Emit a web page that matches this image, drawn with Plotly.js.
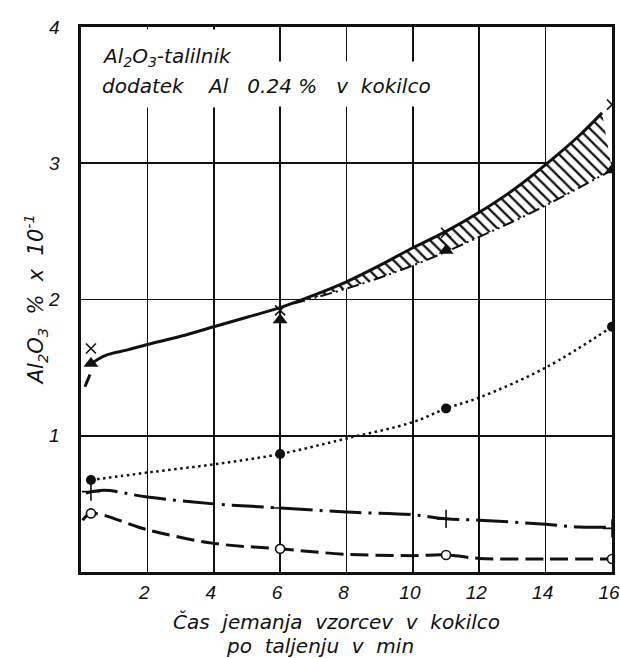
<!DOCTYPE html>
<html>
<head>
<meta charset="utf-8">
<script src="https://cdn.plot.ly/plotly-3.0.1.min.js"></script>
<style>
  html, body { margin: 0; padding: 0; background: #fff; }
  #chart { width: 620px; height: 658px; }
</style>
</head>
<body>
<div id="chart"></div>
<script>
// Sampling times (min after melting) at which each specimen was taken
const sampleTimes = [0.3, 6, 11, 16];

// Measured Al2O3 contents (% x 10^-1) for each sample series
const crossVals    = [1.64, 1.92, 2.49, 3.43];
const triangleVals = [1.53, 1.85, 2.36, 2.95];
const dotVals      = [0.675, 0.866, 1.20, 1.80];
const plusVals     = [0.59, 0.47, 0.39, 0.32];
const ringVals     = [0.43, 0.17, 0.125, 0.095];

// Drawn trend curves
const stubX = [0.12, 0.27];
const stubY = [1.36, 1.45];

const solidX = [0.33, 0.5, 0.8, 1.4, 2, 3, 4, 5, 6, 7, 8, 9, 10, 11, 12, 13, 14, 15, 15.7];
const solidY = [1.53, 1.56, 1.595, 1.63, 1.67, 1.73, 1.80, 1.87, 1.94, 2.03, 2.13, 2.25, 2.38, 2.50, 2.64, 2.80, 2.99, 3.20, 3.37];

const lowerX = [6.4, 7, 8, 9, 10, 11, 12, 13, 14, 15, 16];
const lowerY = [1.97, 2.01, 2.08, 2.16, 2.25, 2.35, 2.46, 2.57, 2.69, 2.82, 2.95];

const hatchUpperX = [6.4, 7, 8, 9, 10, 11, 12, 13, 14, 15, 15.7];
const hatchUpperY = [1.97, 2.03, 2.13, 2.25, 2.38, 2.50, 2.64, 2.80, 2.99, 3.20, 3.37];

const dottedX = [0.3, 2, 4, 6, 8, 10, 11, 12, 14, 16];
const dottedY = [0.675, 0.73, 0.79, 0.866, 0.98, 1.10, 1.20, 1.28, 1.50, 1.80];

const dashDotX = [0.15, 0.7, 2, 4, 6, 8, 10, 11, 12, 14, 15, 16];
const dashDotY = [0.58, 0.60, 0.55, 0.50, 0.47, 0.44, 0.42, 0.39, 0.38, 0.35, 0.33, 0.33];

const dashedX = [0.05, 0.3, 2, 4, 6, 8, 10, 11, 12, 14, 16];
const dashedY = [0.38, 0.43, 0.31, 0.21, 0.17, 0.13, 0.12, 0.125, 0.10, 0.095, 0.095];

// Axis ticks
const xTicks = [2, 4, 6, 8, 10, 12, 14, 16];
const yTicks = [1, 2, 3, 4];

const INK = '#111';
const FONT = 'DejaVu Sans, sans-serif';
const NUM_FONT = 'Liberation Sans, Arial, sans-serif';
const TXT = (size) => ({ family: FONT, size: size, color: INK, style: 'italic' });

const traces = [
  { // lower edge of hatched band
    x: lowerX, y: lowerY, mode: 'lines',
    line: { color: INK, width: 2, dash: '12px,4px,2px,4px,2px,4px', shape: 'spline' }
  },
  { // hatched band
    x: hatchUpperX, y: hatchUpperY, mode: 'lines',
    line: { color: 'rgba(0,0,0,0)', width: 0, shape: 'spline' },
    fill: 'tonexty', fillcolor: '#fff',
    fillpattern: { shape: '\\', fgcolor: INK, bgcolor: '#fff', size: 8, solidity: 0.28 }
  },
  { // solid curve
    x: solidX, y: solidY, mode: 'lines',
    line: { color: INK, width: 3, shape: 'spline' }
  },
  { // short lead-in stroke under the first triangle
    x: stubX, y: stubY, mode: 'lines',
    line: { color: INK, width: 3 }
  },
  { // dotted curve
    x: dottedX, y: dottedY, mode: 'lines',
    line: { color: INK, width: 2.5, dash: '2.5px,3.5px', shape: 'spline' }
  },
  { // dash-dot curve
    x: dashDotX, y: dashDotY, mode: 'lines',
    line: { color: INK, width: 3, dash: '32px,7px,3px,7px', shape: 'spline' }
  },
  { // dashed curve
    x: dashedX, y: dashedY, mode: 'lines',
    line: { color: INK, width: 3, dash: '18px,7px', shape: 'spline' }
  },
  { x: sampleTimes, y: crossVals, mode: 'markers',
    marker: { symbol: 'x-thin', size: 10, line: { color: INK, width: 1.6 } } },
  { x: sampleTimes, y: triangleVals, mode: 'markers',
    marker: { symbol: 'triangle-up', size: 13, color: INK } },
  { x: sampleTimes, y: dotVals, mode: 'markers',
    marker: { symbol: 'circle', size: 10, color: INK } },
  { x: sampleTimes, y: plusVals, mode: 'markers',
    marker: { symbol: 'cross-thin', size: 13, line: { color: INK, width: 1.6 } } },
  { x: sampleTimes, y: ringVals, mode: 'markers',
    marker: { symbol: 'circle', size: 9, color: '#fff', line: { color: INK, width: 1.6 } } }
];

const axisCommon = {
  showgrid: true, gridcolor: INK, gridwidth: 1.6,
  showline: true, mirror: true, linecolor: INK, linewidth: 2.6,
  zeroline: false, ticks: '', fixedrange: true,
  ticklabeloverflow: 'allow',
  tickfont: { family: NUM_FONT, size: 19, color: INK, style: 'italic' }
};

const layout = {
  width: 620, height: 658,
  margin: { l: 81, r: 8, t: 27, b: 86 },
  paper_bgcolor: '#fff', plot_bgcolor: '#fff',
  showlegend: false,
  font: { family: FONT, color: INK, style: 'italic' },
  xaxis: Object.assign({}, axisCommon, {
    range: [0, 16], tickvals: xTicks, ticktext: xTicks.map(String),
    ticklabelstandoff: 2, ticklabelshift: -3
  }),
  yaxis: Object.assign({}, axisCommon, {
    range: [0, 4], tickvals: yTicks, ticktext: yTicks.map(String),
    ticklabelstandoff: 15
  }),
  annotations: [
    // blank panel behind the caption
    { xref: 'paper', yref: 'paper', x: 0.004, y: 0.996, xanchor: 'left', yanchor: 'top',
      text: '\u00A0', showarrow: false, width: 175, height: 77, bgcolor: '#fff', borderpad: 0 },
    { xref: 'paper', yref: 'paper', x: 0.004, y: 0.937, xanchor: 'left', yanchor: 'top',
      text: '\u00A0', showarrow: false, width: 354, height: 44, bgcolor: '#fff', borderpad: 0 },
    // caption
    { xref: 'paper', yref: 'paper', x: 0.035, y: 0.945, xanchor: 'left', yanchor: 'middle',
      text: 'Al<sub>2</sub>O<sub>3</sub>-talilnik', showarrow: false, font: TXT(20) },
    { xref: 'paper', yref: 'paper', x: 0.035, y: 0.892, xanchor: 'left', yanchor: 'middle',
      text: 'dodatek\u00A0\u00A0\u00A0 Al\u00A0\u00A0 0.24 %\u00A0\u00A0 v\u00A0 kokilco', showarrow: false,
      font: TXT(20) },
    // y-axis title
    { xref: 'paper', yref: 'paper', x: -0.087, y: 0.50, xanchor: 'center', yanchor: 'middle',
      textangle: -90, showarrow: false,
      text: 'Al<sub>2</sub>O<sub>3</sub>\u00A0 %\u00A0 x\u00A0 10<sup>-1</sup>', font: TXT(21) },
    // x-axis title, two lines
    { xref: 'paper', yref: 'paper', x: 0.482, y: -0.092, xanchor: 'center', yanchor: 'middle',
      showarrow: false, text: 'Čas\u00A0 jemanja\u00A0 vzorcev\u00A0 v\u00A0 kokilco', font: TXT(20) },
    { xref: 'paper', yref: 'paper', x: 0.450, y: -0.136, xanchor: 'center', yanchor: 'middle',
      showarrow: false, text: 'po\u00A0 taljenju\u00A0 v\u00A0 min', font: TXT(20) }
  ]
};

Plotly.newPlot('chart', traces, layout, { staticPlot: true, displayModeBar: false });
</script>
</body>
</html>
